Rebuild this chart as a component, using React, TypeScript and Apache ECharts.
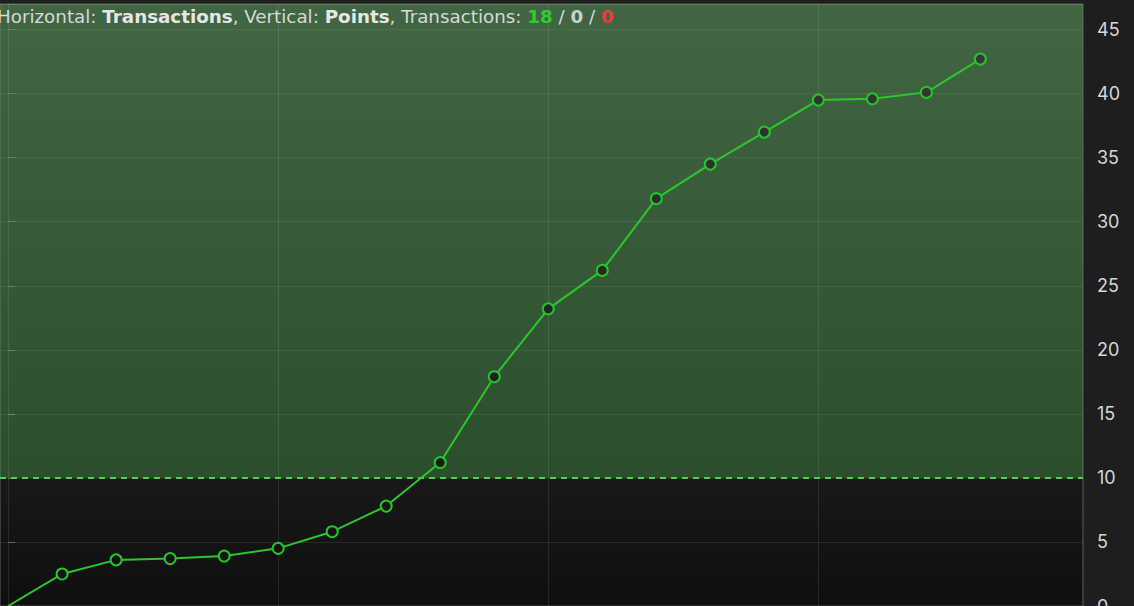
import React, { useEffect, useRef } from "react";
import * as echarts from "echarts";

const xValues = [0, 1, 2, 3, 4, 5, 6, 7, 8, 9, 10, 11, 12, 13, 14, 15, 16, 17, 18];
const yValues = [0, 2.5, 3.6, 3.7, 3.9, 4.5, 5.8, 7.8, 11.2, 17.9, 23.2, 26.2, 31.8, 34.5, 37.0, 39.5, 39.6, 40.1, 42.7];
const verticalGrid = [0, 5, 10, 15];
const threshold = 10;
const yMin = 0;
const yMax = 47;
const xMin = -0.15;
const xMax = 19.9;

const BG_TOP = 58;
const BG_BOTTOM = 15;

function bgAt(value: number) {
  const t = (value - yMin) / (yMax - yMin);
  const c = Math.round(BG_BOTTOM + (BG_TOP - BG_BOTTOM) * t);
  return `rgb(${c},${c},${c})`;
}

export default function App() {
  const ref = useRef<HTMLDivElement>(null);
  useEffect(() => {
    if (!ref.current) return;
    const chart = echarts.init(ref.current, undefined, { renderer: "svg" });
    const labelFont = "Inter, 'Noto Sans', sans-serif";
    const titleFont = "'DejaVu Sans', sans-serif";
    const titleSize = 18.3;
    const bgGrad = new echarts.graphic.LinearGradient(0, 0, 0, 1, [
      { offset: 0, color: "#3a3a3a" },
      { offset: 1, color: "#0f0f0f" },
    ]);
    const data = xValues.map((x, i) => [x, yValues[i]]);
    chart.setOption({
      animation: false,
      backgroundColor: "#1e1e1e",
      grid: {
        left: 0,
        right: 51,
        top: 4,
        height: 602,
        outerBoundsMode: "none",
        containLabel: false,
        show: true,
        backgroundColor: bgGrad,
        borderColor: "#5e5e5e",
        borderWidth: 1,
      },
      xAxis: {
        type: "value",
        min: xMin,
        max: xMax,
        show: false,
        splitLine: { show: false },
      },
      yAxis: {
        type: "value",
        position: "right",
        min: yMin,
        max: yMax,
        interval: 5,
        axisLine: { show: false },
        axisTick: { show: true, length: 7, lineStyle: { color: "#6a6a6a", width: 1 } },
        axisLabel: {
          color: "#d6d6d6",
          fontSize: 18,
          fontFamily: labelFont,
          margin: 14,
          formatter: (v: number) => (v % 5 === 0 ? String(v) : ""),
        },
        splitLine: { show: true, lineStyle: { color: "rgba(255,255,255,0.09)", width: 1 } },
      },
      series: [
        {
          type: "line",
          data,
          symbol: (v: number[]) => (v[1] > 0 ? "circle" : "none"),
          symbolSize: 11,
          lineStyle: { color: "#2cc72c", width: 2 },
          itemStyle: {
            color: (p: any) => bgAt(p.value[1]),
            borderColor: "#22c52a",
            borderWidth: 2,
          },
          z: 5,
          markArea: {
            silent: true,
            z: 1,
            itemStyle: { color: "rgba(85,197,90,0.32)" },
            data: [[{ yAxis: threshold }, { yAxis: yMax }]],
          },
          markLine: {
            silent: true,
            symbol: ["none", "none"],
            label: { show: false },
            data: [
              ...verticalGrid.map((v) => ({
                xAxis: v,
                lineStyle: { color: "rgba(255,255,255,0.09)", width: 1, type: "solid" },
              })),
              {
                yAxis: threshold,
                lineStyle: { color: "#4fd34f", width: 2, type: [6, 5] },
              },
            ],
          },
        },
      ],
      graphic: [
        {
          type: "text",
          x: -3,
          y: 16,
          style: {
            text:
              "Horizontal: {b|Transactions}, Vertical: {b|Points}, Transactions: {g|18} / {w|0} / {r|0}",
            fill: "#d8d8d8",
            font: `${titleSize}px ${titleFont}`,
            verticalAlign: "middle",
            rich: {
              b: { fontWeight: "bold", fill: "#e6e6e6", fontSize: titleSize, fontFamily: titleFont },
              g: { fontWeight: "bold", fill: "#2ecb32", fontSize: titleSize, fontFamily: titleFont },
              w: { fontWeight: "bold", fill: "#d0d0d0", fontSize: titleSize, fontFamily: titleFont },
              r: { fontWeight: "bold", fill: "#ee3b3b", fontSize: titleSize, fontFamily: titleFont },
            },
          },
          z: 100,
        },
      ],
    });
    return () => chart.dispose();
  }, []);
  return (
    <div
      ref={ref}
      style={{ position: "fixed", left: 0, top: 0, width: 1134, height: 606 }}
    />
  );
}
